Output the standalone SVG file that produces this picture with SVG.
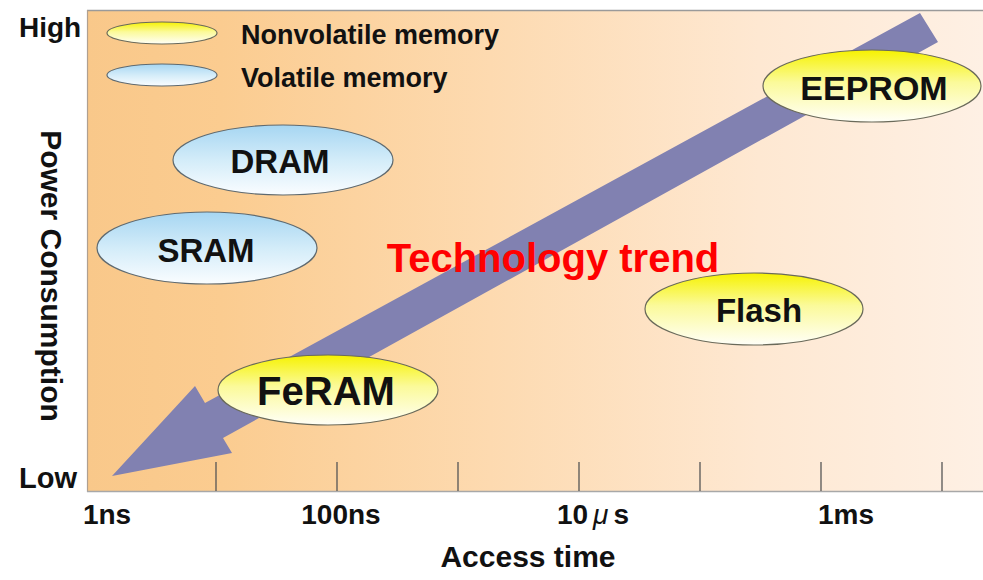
<svg xmlns="http://www.w3.org/2000/svg" width="983" height="580" viewBox="0 0 983 580">
<defs>
<linearGradient id="bg" x1="0" y1="0" x2="1" y2="0">
<stop offset="0" stop-color="#F9C88A"/>
<stop offset="0.15" stop-color="#FBCC90"/>
<stop offset="0.45" stop-color="#FDDAB0"/>
<stop offset="0.75" stop-color="#FEE8D2"/>
<stop offset="1" stop-color="#FEF0E4"/>
</linearGradient>
<linearGradient id="yel" x1="0" y1="0" x2="0" y2="1">
<stop offset="0" stop-color="#F6F200"/>
<stop offset="0.45" stop-color="#FBFA9A"/>
<stop offset="1" stop-color="#FFFFF8"/>
</linearGradient>
<linearGradient id="blu" x1="0" y1="0" x2="0" y2="1">
<stop offset="0" stop-color="#A6D6F2"/>
<stop offset="0.5" stop-color="#D3ECF9"/>
<stop offset="1" stop-color="#FAFDFF"/>
</linearGradient>
</defs>
<style>
text{font-family:"Liberation Sans",Arial,sans-serif;font-weight:bold;fill:#111}
.nv{fill:url(#yel);stroke:#6a6a5a;stroke-width:1.2}
.vo{fill:url(#blu);stroke:#5f6a70;stroke-width:1.2}
.lbl{text-anchor:middle}
.tick{stroke:#555;stroke-width:1.3}
.ax{font-size:28px;text-anchor:middle}
</style>
<rect width="983" height="580" fill="#fff"/>
<g id="plot">
<rect x="87" y="10" width="896" height="481" fill="url(#bg)"/>
<line x1="87" y1="10.5" x2="983" y2="10.5" stroke="#9a9a9a" stroke-width="1.5"/>
<line x1="87.5" y1="10" x2="87.5" y2="492" stroke="#b0a090" stroke-width="1.2"/>
<line x1="87" y1="491.5" x2="983" y2="491.5" stroke="#a8a8a8" stroke-width="1.5"/>
<g class="tick">
<line x1="216" y1="462" x2="216" y2="491"/>
<line x1="337" y1="462" x2="337" y2="491"/>
<line x1="458" y1="462" x2="458" y2="491"/>
<line x1="579" y1="462" x2="579" y2="491"/>
<line x1="700" y1="462" x2="700" y2="491"/>
<line x1="821" y1="462" x2="821" y2="491"/>
<line x1="942" y1="462" x2="942" y2="491"/>
</g>
</g>
<g id="axis-labels">
<text x="19" y="37" font-size="28">High</text>
<text x="19" y="488" font-size="29">Low</text>
<text transform="translate(41,276) rotate(90)" font-size="30" text-anchor="middle">Power Consumption</text>
<text class="ax" x="107" y="524">1ns</text>
<text class="ax" x="341" y="524">100ns</text>
<text class="ax" x="593" y="524">10<tspan dx="5" font-style="italic" font-weight="normal">μ</tspan><tspan dx="5">s</tspan></text>
<text class="ax" x="846" y="524">1ms</text>
<text x="528" y="567" font-size="30" text-anchor="middle">Access time</text>
</g>
<g id="legend">
<ellipse class="nv" cx="162" cy="33" rx="55" ry="11"/>
<text x="241" y="44" font-size="27">Nonvolatile memory</text>
<ellipse class="vo" cx="162" cy="75" rx="55" ry="11"/>
<text x="241" y="87" font-size="27">Volatile memory</text>
</g>
<g id="connectors">
<polygon id="trend-arrow" points="112,476 195,386 205,403 920,13 938,42 223,438 232,453" fill="#8181B1"/>
</g>
<g id="trend-label">
<text x="553" y="272" font-size="40" text-anchor="middle" style="fill:#FF0000">Technology trend</text>
</g>
<g id="node-dram">
<ellipse class="vo" cx="283" cy="160" rx="110" ry="35"/>
<text class="lbl" x="280" y="173" font-size="33">DRAM</text>
</g>
<g id="node-sram">
<ellipse class="vo" cx="207" cy="248" rx="110" ry="36"/>
<text class="lbl" x="206" y="262" font-size="33">SRAM</text>
</g>
<g id="node-feram">
<ellipse class="nv" cx="328" cy="390" rx="110" ry="35"/>
<text class="lbl" x="326" y="405" font-size="40">FeRAM</text>
</g>
<g id="node-eeprom">
<ellipse class="nv" cx="872" cy="86" rx="109" ry="36"/>
<text class="lbl" x="874" y="100" font-size="34">EEPROM</text>
</g>
<g id="node-flash">
<ellipse class="nv" cx="754" cy="309" rx="109" ry="36"/>
<text class="lbl" x="759" y="322" font-size="33">Flash</text>
</g>
</svg>
